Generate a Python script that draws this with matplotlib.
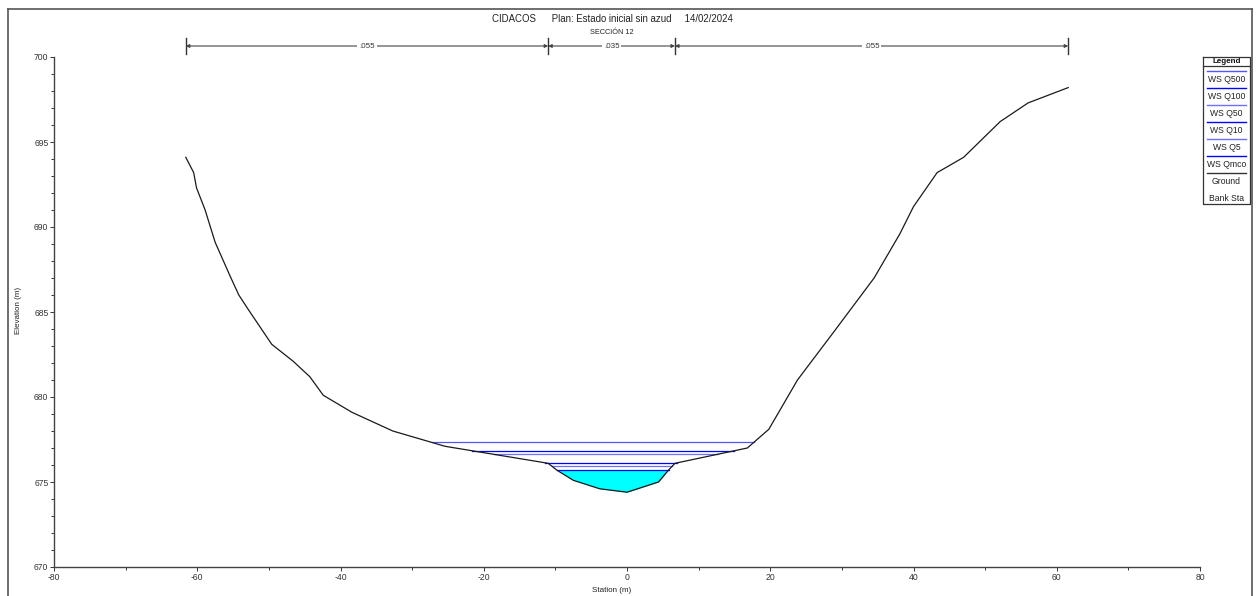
import numpy as np
import matplotlib
matplotlib.use("Agg")
import matplotlib.pyplot as plt
from matplotlib.ticker import MultipleLocator

plt.rcParams['font.family'] = ['Liberation Sans', 'DejaVu Sans']
plt.rcParams['axes.unicode_minus'] = False

# Perfil del terreno (estación m, cota m)
estacion = [-61.6, -60.5, -60.1, -58.9, -57.5, -55.4, -54.2, -52.8, -49.6, -46.6,
            -44.3, -42.4, -38.4, -32.7, -25.4, -11.0, -9.8, -7.5, -3.8, 0.0,
            4.4, 5.8, 6.7, 16.8, 19.8, 23.8, 29.0, 34.5, 38.1, 40.0,
            43.3, 47.0, 52.1, 56.0, 61.6]
cota = [694.1, 693.2, 692.3, 691.0, 689.1, 687.1, 686.0, 685.1, 683.1, 682.1,
        681.2, 680.1, 679.1, 678.0, 677.1, 676.1, 675.7, 675.1, 674.6, 674.4,
        675.0, 675.7, 676.1, 677.0, 678.1, 681.0, 683.9, 687.0, 689.6, 691.2,
        693.2, 694.1, 696.2, 697.3, 698.2]

# Láminas de agua
perfiles = ["WS Q500", "WS Q100", "WS Q50", "WS Q10", "WS Q5", "WS Qmco"]
niveles = [677.33, 676.84, 676.63, 676.13, 675.93, 675.71]
colores = ['#5555ff', '#0000ff', '#6f6fff', '#0000ff', '#6f6fff', '#0000ff']

# Coeficientes de Manning
limites_n = [-61.6, -11.0, 6.7, 61.6]
valores_n = [".055", ".035", ".055"]

W, H = 1257, 596
fig = plt.figure(figsize=(W / 100, H / 100), dpi=100)
ax = fig.add_axes([54 / W, (H - 567) / H, 1146 / W, 510 / H])

sta = np.array(estacion)
z = np.array(cota)
ifondo = int(np.argmin(z))


def cruce(nivel):
    # interseccion de la lamina con el terreno a cada lado del fondo
    izq_s, izq_z = sta[:ifondo + 1][::-1], z[:ifondo + 1][::-1]
    der_s, der_z = sta[ifondo:], z[ifondo:]
    xl = np.interp(nivel, izq_z, izq_s)
    xr = np.interp(nivel, der_z, der_s)
    return xl, xr


# relleno del caudal menor (Qmco)
ax.fill_between(sta, z, niveles[-1], where=z <= niveles[-1] + 0.01,
                interpolate=True, color='#00ffff', lw=0, zorder=1)

for nom, niv, col in zip(perfiles, niveles, colores):
    xl, xr = cruce(niv)
    ax.plot([xl, xr], [niv, niv], color=col, lw=0.9, zorder=2)

ax.plot(sta, z, color='#1a1a1a', lw=0.9, zorder=3)

ax.set_xlim(-80, 80)
ax.set_ylim(670, 700)
ax.xaxis.set_major_locator(MultipleLocator(20))
ax.xaxis.set_minor_locator(MultipleLocator(10))
ax.yaxis.set_major_locator(MultipleLocator(5))
ax.yaxis.set_minor_locator(MultipleLocator(1))
ax.tick_params(which='major', direction='out', length=3, width=0.7,
               labelsize=6.2, pad=1, colors='#333333')
ax.tick_params(which='minor', direction='out', length=2, width=0.7, colors='#333333')
for s in ['top', 'right']:
    ax.spines[s].set_visible(False)
for s in ['left', 'bottom']:
    ax.spines[s].set_color('#444444')
    ax.spines[s].set_linewidth(1.0)

# Manning n en la parte superior
tr = ax.get_xaxis_transform()
yn = (567 - 46) / 510
for xb in limites_n:
    ax.plot([xb, xb], [(567 - 38) / 510, (567 - 54) / 510], transform=tr,
            color='#333333', lw=1.0, clip_on=False)
for i, lab in enumerate(valores_n):
    x0, x1 = limites_n[i], limites_n[i + 1]
    ax.annotate('', xy=(x1, yn), xytext=(x0, yn), xycoords=tr, textcoords=tr,
                arrowprops=dict(arrowstyle='<|-|>', lw=0.8, color='#444444',
                                shrinkA=0, shrinkB=0, mutation_scale=5),
                annotation_clip=False)
    ax.text((x0 + x1) / 2, yn, lab, transform=tr, ha='center', va='center',
            fontsize=5.8, color='#333333',
            bbox=dict(facecolor='white', edgecolor='none', pad=1.2))

# Capa de dibujo en pixeles (marco, textos y leyenda)
ov = fig.add_axes([0, 0, 1, 1], zorder=5)
ov.set_xlim(0, W)
ov.set_ylim(H, 0)
ov.axis('off')
ov.patch.set_alpha(0)

marco = '#555555'
ov.plot([8, 8], [9, H + 5], color=marco, lw=1.2)
ov.plot([8, 1252], [9, 9], color=marco, lw=1.2)
ov.plot([1252, 1252], [9, H + 5], color=marco, lw=1.2)

ov.text(612, 19, "CIDACOS      Plan: Estado inicial sin azud     14/02/2024",
        ha='center', va='center', fontsize=6.9, color='#222222')
ov.text(612, 32, "SECCIÓN 12", ha='center', va='center', fontsize=5.3, color='#222222')
ov.text(18, 310, "Elevation (m)", rotation=90, ha='center', va='center',
        fontsize=5.8, color='#222222')
ov.text(612, 591, "Station (m)", ha='center', va='center', fontsize=5.8, color='#222222')

# Leyenda
lx0, lx1, ly0, ly1 = 1203, 1250, 57, 204
ov.plot([lx0, lx1, lx1, lx0, lx0], [ly0, ly0, ly1, ly1, ly0], color='#333333', lw=0.9)
ov.plot([lx0, lx1], [66, 66], color='#333333', lw=0.9)
ov.text((lx0 + lx1) / 2, 61.5, "Legend", ha='center', va='center', fontsize=5.8,
        fontweight='bold', color='#111111')
etiquetas = perfiles + ["Ground", "Bank Sta"]
lineas = colores + ['#333333', None]
paso = 17.0
for i, (lab, col) in enumerate(zip(etiquetas, lineas)):
    yl = 70.7 + i * paso
    if col is not None:
        ov.plot([lx0 + 4, lx1 - 4], [yl, yl], color=col, lw=1.0)
    ov.text((lx0 + lx1) / 2, yl + 8.5, lab, ha='center', va='center',
            fontsize=6.2, color='#222222')

fig.savefig("out.png", dpi=100)
